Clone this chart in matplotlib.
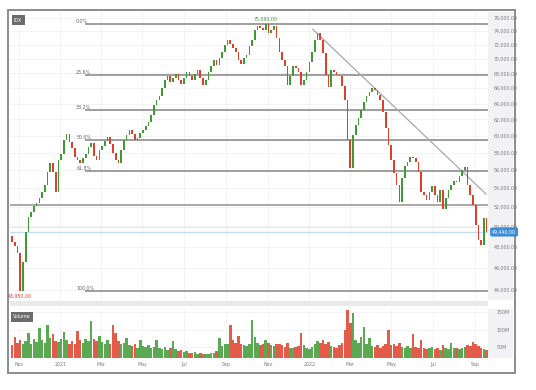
import matplotlib
matplotlib.use("Agg")
import matplotlib.pyplot as plt
import pandas as pd
from matplotlib.patches import Rectangle

W, H = 536, 390

ticker = "IDX"
dates = pd.date_range("2020-10-22", periods=175, freq="4D")
first_open = 49000
closes = [
    48460, 48070, 47400, 43950, 46550, 49440, 50950, 51460, 52090, 52400,
    52930, 53570, 54330, 55770, 56790, 55770, 53570, 57130, 57820, 59470,
    60190, 59230, 58530, 57480, 57130, 56790, 57360, 57820, 58640, 59110,
    57590, 57130, 58290, 58760, 59350, 59830, 59000, 57940, 57130, 56790,
    58290, 59470, 60070, 60680, 60190, 59470, 59710, 60320, 60680, 61170,
    61660, 62540, 63810, 64450, 64970, 66030, 67100, 67640, 66830, 67370,
    67910, 67100, 66560, 67370, 68180, 67640, 67100, 67910, 68460, 67370,
    66430, 67100, 68180, 69010, 69850, 69150, 70130, 70980, 71980, 72710,
    72130, 71550, 70980, 69850, 69290, 70130, 70550, 71840, 72710, 74180,
    74780, 74480, 74180, 75090, 73740, 74180, 74780, 73000, 70980, 69850,
    69010, 66430, 67640, 69010, 68730, 68180, 66430, 67100, 68180, 69570,
    70980, 72710, 73740, 72710, 70840, 67770, 66160, 68460, 68180, 67770,
    67640, 66290, 64450, 59470, 56220, 60070, 61290, 62160, 63170, 64190,
    64970, 65500, 66030, 65760, 65100, 64450, 62920, 60920, 58880, 57130,
    55660, 54330, 52510, 55100, 56450, 56900, 57480, 57360, 56900, 55770,
    53570, 53250, 52710, 53570, 54220, 53250, 52510, 53790, 51770, 52930,
    53790, 54330, 54770, 54660, 55320, 55990, 56330, 54330, 53250, 52190,
    50140, 48650, 48160, 50850, 49440,
]
volumes = [  # millions
    55, 78, 62, 70, 58, 66, 90, 60, 72, 64,
    104, 70, 62, 112, 75, 86, 68, 64, 74, 92,
    70, 60, 66, 58, 95, 70, 62, 74, 66, 125,
    72, 68, 82, 64, 60, 70, 58, 112, 90, 66,
    58, 62, 76, 55, 52, 60, 48, 70, 52, 50,
    55, 46, 50, 70, 48, 44, 50, 42, 46, 68,
    44, 40, 42, 36, 38, 34, 32, 36, 30, 32,
    29, 31, 30, 34, 33, 40, 76, 52, 60, 58,
    113, 70, 62, 82, 58, 56, 52, 60, 128, 78,
    62, 56, 60, 70, 62, 55, 52, 60, 58, 55,
    50, 62, 48, 46, 50, 52, 90, 56, 48, 44,
    50, 60, 66, 62, 70, 58, 64, 52, 50, 48,
    56, 62, 100, 155, 120, 148, 70, 62, 80, 106,
    60, 76, 54, 50, 56, 48, 52, 58, 98, 56,
    60, 54, 62, 50, 46, 52, 48, 86, 50, 46,
    70, 48, 44, 46, 50, 44, 48, 42, 56, 46,
    44, 62, 48, 46, 44, 48, 50, 56, 52, 64,
    58, 54, 48, 44, 42,
]

fib_ratios = [0.0, 0.236, 0.382, 0.5, 0.618, 1.0]
fib_labels = ["0.0%", "23.6%", "38.2%", "50.0%", "61.8%", "100.0%"]
support_level = 52200
prev_close = 49950
trend_dates = ["2022-01-06", "2022-09-17"]
trend_prices = [74300, 53360]

price_ticks = list(range(44000, 76001, 2000))
vol_ticks = [50, 100, 150]
vol_labels = ["50M", "100M", "150M"]
month_ticks = ["2020-11-01", "2021-01-01", "2021-03-01", "2021-05-01", "2021-07-01",
               "2021-09-01", "2021-11-01", "2022-01-01", "2022-03-01", "2022-05-01",
               "2022-07-01", "2022-09-01"]
month_labels = ["Nov", "2021", "Mar", "May", "Jul", "Sep", "Nov", "2022",
                "Mar", "May", "Jul", "Sep"]

UP = "#3f9a35"
DOWN = "#de3f2a"
GRID = "#efefef"
TXT = "#7a7a7a"

opens = [first_open] + closes[:-1]
colors = [UP if c >= o else DOWN for o, c in zip(opens, closes)]
lows = [min(o, c) for o, c in zip(opens, closes)]
highs = [max(o, c) for o, c in zip(opens, closes)]

xlim = (pd.Timestamp("2020-10-19"), pd.Timestamp("2022-09-20"))


def fx(px):
    return px / W


def fy(py):
    return 1 - py / H


fig = plt.figure(figsize=(W / 100, H / 100), dpi=100)
fig.patch.set_facecolor("white")

# outer frame and side strips (behind the axes)
for rect in [
    Rectangle((fx(488), fy(300)), fx(25), 288 / H, fc="#f2f2f5", ec="none"),
    Rectangle((fx(488), fy(358)), fx(25), 49 / H, fc="#f2f2f5", ec="none"),
    Rectangle((fx(10), fy(306)), fx(478), 5 / H, fc="#e9e9e9", ec="none"),
    Rectangle((fx(8), fy(373)), fx(507), 363 / H, fill=False, ec="#8c8c8c", lw=1.4),
]:
    rect.set_transform(fig.transFigure)
    rect.set_zorder(-5)
    fig.patches.append(rect)

ax = fig.add_axes([fx(10), fy(300), fx(478), 288 / H])
axv = fig.add_axes([fx(10), fy(358), fx(478), 49 / H])
ax.patch.set_alpha(0)
axv.patch.set_alpha(0)

# price panel
ax.set_yscale("log")
ax.set_ylim(43125, 76920)
ax.set_xlim(*xlim)
ax.bar(dates, [h - l for h, l in zip(highs, lows)], bottom=lows, width=2.4,
       color=colors, edgecolor="none", zorder=3)

hi, lo = max(closes), min(closes)
fib_start = pd.Timestamp("2021-02-06")
for r, lab in zip(fib_ratios, fib_labels):
    lvl = hi - r * (hi - lo)
    ax.hlines(lvl, fib_start, xlim[1], color="#8e8e8e", lw=1.2, zorder=2)
    ax.text(pd.Timestamp("2021-01-24"), lvl, lab, fontsize=3.4, color="#666",
            ha="left", va="bottom", zorder=4)

ax.axhline(support_level, color="#9a9a9a", lw=1.2, zorder=2)
ax.axhline(prev_close, color="#f6dccf", lw=0.6, zorder=2)
ax.axhline(closes[-1], color="#c4dcef", lw=1.0, zorder=2)
ax.plot(pd.to_datetime(trend_dates), trend_prices, color="#a8a8a8", lw=0.9, zorder=2)

imax = closes.index(hi)
imin = closes.index(lo)
ax.annotate(f"{hi:,.2f}", (dates[imax], hi), xytext=(0, 1.5), textcoords="offset points",
            ha="center", va="bottom", fontsize=3.4, color=UP, zorder=5)
ax.annotate(f"{lo:,.2f}", (dates[imin], lo), xytext=(0, -2), textcoords="offset points",
            ha="center", va="top", fontsize=3.4, color=DOWN, zorder=5)

ax.set_yticks(price_ticks)
ax.set_yticklabels([f"{v:,.2f}" for v in price_ticks])
ax.minorticks_off()
ax.yaxis.tick_right()
ax.tick_params(axis="y", length=0, pad=4, labelsize=3.4, labelcolor=TXT)
ax.set_xticks(pd.to_datetime(month_ticks))
ax.tick_params(axis="x", length=0, labelbottom=False)
ax.grid(True, color=GRID, lw=0.5, zorder=0)
for s in ax.spines.values():
    s.set_visible(False)

# last price badge
ax.annotate(f"{closes[-1]:,.2f}", (1.0, closes[-1]), xycoords=("axes fraction", "data"),
            xytext=(3, 0), textcoords="offset points", ha="left", va="center",
            fontsize=3.4, color="white", zorder=6, annotation_clip=False,
            bbox=dict(boxstyle="round,pad=0.35", fc="#3b8fd8", ec="#2a78c0", lw=0.4))

# volume panel
axv.set_xlim(*xlim)
axv.set_ylim(18.6, 158.6)
axv.bar(dates, volumes, width=3.7, color=colors, alpha=0.85, edgecolor="none", zorder=3)
axv.set_yticks(vol_ticks)
axv.set_yticklabels(vol_labels)
axv.yaxis.tick_right()
axv.tick_params(axis="y", length=0, pad=6, labelsize=3.4, labelcolor=TXT)
axv.set_xticks(pd.to_datetime(month_ticks))
axv.set_xticklabels(month_labels)
axv.tick_params(axis="x", length=0, pad=3, labelsize=3.4, labelcolor=TXT)
axv.grid(True, color=GRID, lw=0.5, zorder=0)
for s in axv.spines.values():
    s.set_visible(False)

# badges
fig.text(fx(14), fy(20), ticker, fontsize=3.4, color="white", ha="left", va="center",
         bbox=dict(boxstyle="square,pad=0.5", fc="#6b6b6b", ec="none"))
fig.text(fx(13), fy(317), "Volume", fontsize=3.4, color="white", ha="left", va="center",
         bbox=dict(boxstyle="square,pad=0.5", fc="#6b6b6b", ec="none"))

fig.savefig("out.png", dpi=100)
